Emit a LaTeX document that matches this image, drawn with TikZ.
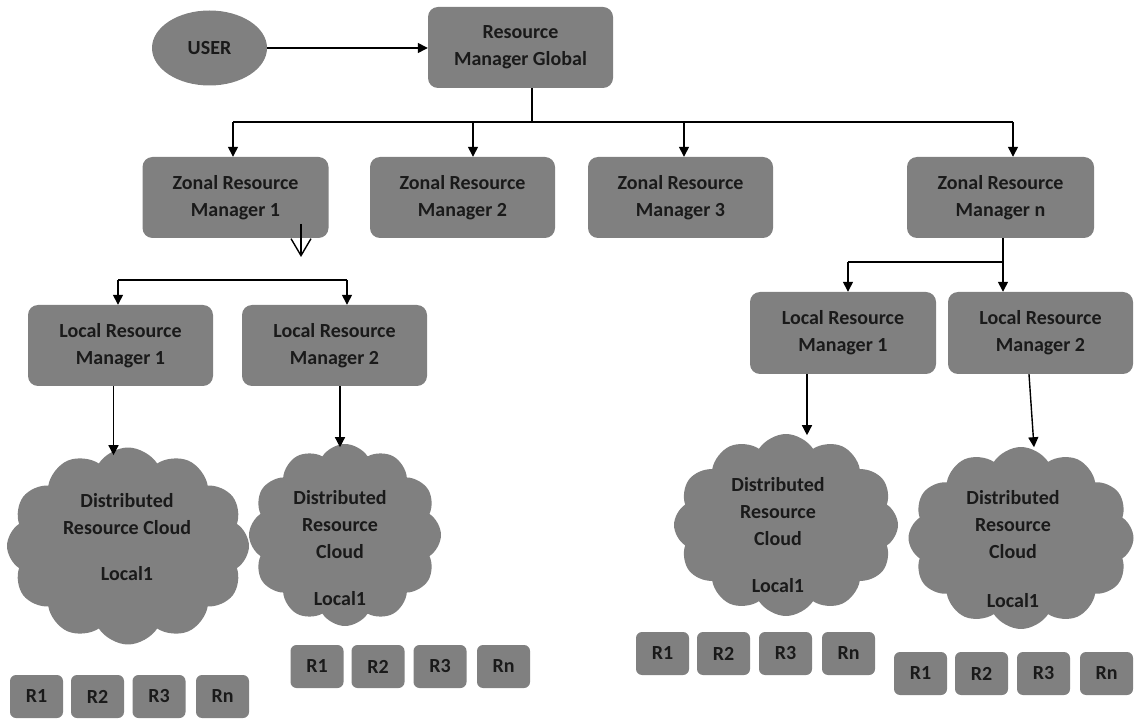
\documentclass[tikz,border=0pt]{standalone}
\usepackage{fontspec}
\setmainfont{Carlito}
\usetikzlibrary{arrows.meta,shapes.geometric,shapes.symbols}
\definecolor{boxgray}{HTML}{808080}
\definecolor{txt}{HTML}{1A1A1A}
\tikzset{
  box/.style={fill=boxgray,rounded corners=10pt,text=txt,align=center,inner sep=0pt,
    font={\fontsize{20}{27}\selectfont\bfseries}},
  rbox/.style={fill=boxgray,rounded corners=6pt,text=txt,inner sep=0pt,
    minimum width=53pt,minimum height=43pt,font={\fontsize{20}{27}\selectfont\bfseries}},
  cloudshape/.style={cloud,cloud puffs=12,cloud puff arc=115,cloud ignores aspect,fill=boxgray,inner sep=0pt},
  cloudtext/.style={text=txt,align=center,font={\fontsize{20}{27}\selectfont\bfseries}},
  link/.style={draw=black,line width=1.4pt},
  arr/.style={link,-{Triangle[length=10pt,width=10pt]}},
  openarr/.style={draw=black,line width=1.4pt,-{Straight Barb[length=17pt,width=20pt,line width=1.4pt]}}
}
\begin{document}
\begin{tikzpicture}[x=1pt,y=-1pt]
\useasboundingbox (0,0) rectangle (1136,719);
\fill[white] (0,0) rectangle (1136,719);

% top
\node[ellipse,fill=boxgray,text=txt,minimum width=115pt,minimum height=75pt,inner sep=0pt,
  font={\fontsize{20}{27}\selectfont\bfseries}] (user) at (209.5,48) {USER};
\node[box,minimum width=185pt,minimum height=81pt] (rmg) at (520.5,47.5) {Resource\\Manager Global};
\draw[arr] (user.east) -- (rmg.west |- user.east);

% zonal
\node[box,minimum width=186pt,minimum height=81pt] (z1) at (235.5,197.5) {Zonal Resource\\Manager 1};
\node[box,minimum width=185pt,minimum height=81pt] (z2) at (462.5,197.5) {Zonal Resource\\Manager 2};
\node[box,minimum width=185pt,minimum height=81pt] (z3) at (680.5,197.5) {Zonal Resource\\Manager 3};
\node[box,minimum width=187pt,minimum height=81pt] (zn) at (1000.5,197.5) {Zonal Resource\\Manager n};

\coordinate (bus) at (532,122);
\coordinate (b1) at (233,122);
\coordinate (b2) at (473,122);
\coordinate (b3) at (684,122);
\coordinate (b4) at (1013,122);
\draw[link] (rmg.south -| bus) -- (bus);
\draw[draw=black,line width=2.2pt] (b1) -- (b4);
\draw[arr] (b1) -- (b1 |- z1.north);
\draw[arr] (b2) -- (b2 |- z2.north);
\draw[arr] (b3) -- (b3 |- z3.north);
\draw[arr] (b4) -- (b4 |- zn.north);

% left locals
\node[box,minimum width=185pt,minimum height=81pt] (l1) at (120.5,345.5) {Local Resource\\Manager 1};
\node[box,minimum width=185pt,minimum height=81pt] (l2) at (334.5,345.5) {Local Resource\\Manager 2};
\coordinate (o1) at (301,224);
\coordinate (o2) at (301,257);
\draw[openarr] (o1) -- (o2);
\coordinate (lb1) at (118,280);
\coordinate (lb2) at (347,280);
\draw[link] (lb1) -- (lb2);
\draw[arr] (lb1) -- (lb1 |- l1.north);
\draw[arr] (lb2) -- (lb2 |- l2.north);

% right locals
\node[box,minimum width=186pt,minimum height=82pt] (lr1) at (843,333) {Local Resource\\Manager 1};
\node[box,minimum width=185pt,minimum height=82pt] (lr2) at (1040.5,333) {Local Resource\\Manager 2};
\coordinate (rb1) at (848,262);
\coordinate (rb2) at (1003,262);
\draw[arr] (zn.south -| rb2) -- (rb2 |- lr2.north);
\draw[link] (rb2) -- (rb1);
\draw[arr] (rb1) -- (rb1 |- lr1.north);

% clouds
\node[cloudshape,minimum width=242pt,minimum height=197pt] (c1) at (128,546) {};
\node[cloudshape,minimum width=192pt,minimum height=182pt] (c2) at (345,535) {};
\node[cloudshape,minimum width=224pt,minimum height=182pt] (c3) at (786,525) {};
\node[cloudshape,minimum width=225pt,minimum height=182pt] (c4) at (1021,538) {};
\node[cloudtext] (t1) at (127,537) {Distributed\\Resource Cloud\\[19pt]Local1};
\node[cloudtext] (t2) at (340,548.5) {Distributed\\Resource\\Cloud\\[20pt]Local1};
\node[cloudtext] (t3) at (778,535) {Distributed\\Resource\\Cloud\\[20pt]Local1};
\node[cloudtext] (t4) at (1013,549) {Distributed\\Resource\\Cloud\\[22pt]Local1};

\draw[arr] ([xshift=-7pt]l1.south) -- ++(0,69);
\draw[arr] ([xshift=5.5pt]l2.south) -- ++(0,61);
\draw[arr] ([xshift=-36pt]lr1.south) -- ++(0,61);
\draw[arr] ([xshift=-11.5pt]lr2.south) -- ++(5,73);

% resource boxes
\node[rbox] (a1) at (36.5,696.5) {R1};
\node[rbox] (a2) at (97.5,696.5) {R2};
\node[rbox] (a3) at (159,696.5) {R3};
\node[rbox] (an) at (222.5,696.5) {Rn};

\node[rbox] (b1r) at (317,666.5) {R1};
\node[rbox] (b2r) at (378,666.5) {R2};
\node[rbox] (b3r) at (440,666.5) {R3};
\node[rbox] (bnr) at (503.5,666.5) {Rn};

\node[rbox] (c1r) at (662.5,653.5) {R1};
\node[rbox] (c2r) at (723.5,653.5) {R2};
\node[rbox] (c3r) at (785.5,653.5) {R3};
\node[rbox] (cnr) at (848.5,653.5) {Rn};

\node[rbox] (d1r) at (920.5,673.5) {R1};
\node[rbox] (d2r) at (981.5,673.5) {R2};
\node[rbox] (d3r) at (1043.5,673.5) {R3};
\node[rbox] (dnr) at (1106.5,673.5) {Rn};
\end{tikzpicture}
\end{document}
